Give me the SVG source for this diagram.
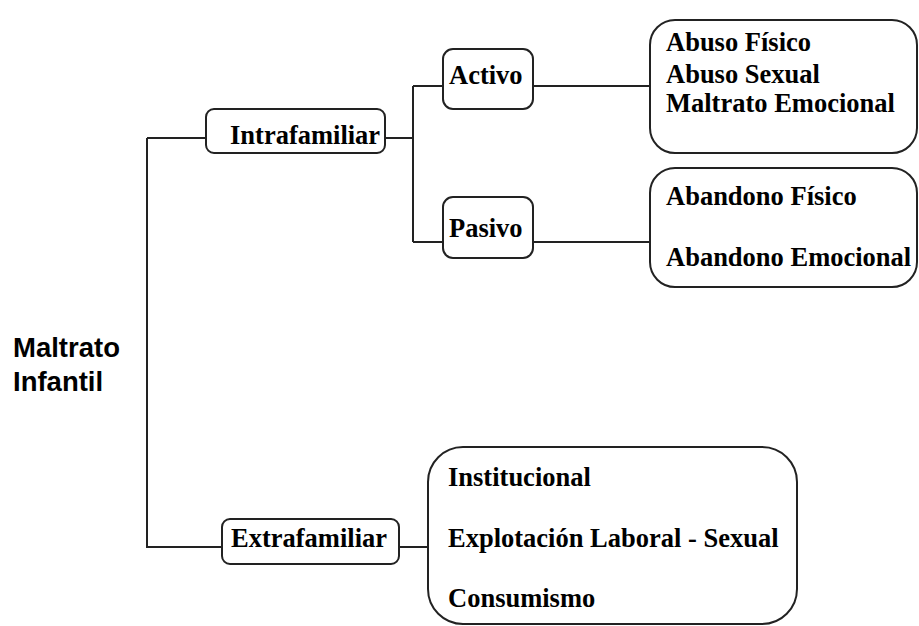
<svg xmlns="http://www.w3.org/2000/svg" width="919" height="626" viewBox="0 0 919 626">
<style>
.box{fill:#fff;stroke:#222;stroke-width:2}
.ln{fill:none;stroke:#222;stroke-width:2}
.t{font-family:"Liberation Serif","Times New Roman",serif;font-weight:bold;font-size:26.5px;fill:#000}
.s{font-family:"Liberation Sans",Arial,sans-serif;font-weight:bold;font-size:27.5px;fill:#000}
</style>
<rect width="919" height="626" fill="#fff"/>
<g id="connectors">
<path class="ln" d="M147,138 V547 H222"/>
<path class="ln" d="M147,138 H206"/>
<path class="ln" d="M385,138 H413"/>
<path class="ln" d="M413,86 V242"/>
<path class="ln" d="M413,86 H443"/>
<path class="ln" d="M413,242 H443"/>
<path class="ln" d="M533,86 H650"/>
<path class="ln" d="M533,242 H650"/>
<path class="ln" d="M399,547 H428"/>
</g>
<g id="root">
<text class="s" x="13" y="357">Maltrato</text>
<text class="s" x="13" y="391">Infantil</text>
</g>
<g id="intrafamiliar">
<rect class="box" x="206" y="109" width="179" height="44" rx="8"/>
<text class="t" x="230" y="144">Intrafamiliar</text>
</g>
<g id="activo">
<rect class="box" x="443" y="49" width="90" height="60" rx="10"/>
<text class="t" x="449" y="84">Activo</text>
</g>
<g id="pasivo">
<rect class="box" x="443" y="197" width="90" height="61" rx="10"/>
<text class="t" x="449" y="237">Pasivo</text>
</g>
<g id="activo-list">
<rect class="box" x="650" y="20" width="267" height="133" rx="25"/>
<text class="t" x="666" y="51">Abuso Físico</text>
<text class="t" x="666" y="83">Abuso Sexual</text>
<text class="t" x="666" y="112">Maltrato Emocional</text>
</g>
<g id="pasivo-list">
<rect class="box" x="650" y="168" width="267" height="119" rx="25"/>
<text class="t" x="666" y="205">Abandono Físico</text>
<text class="t" x="666" y="266">Abandono Emocional</text>
</g>
<g id="extrafamiliar">
<rect class="box" x="222" y="519" width="177" height="45" rx="8"/>
<text class="t" x="231" y="547">Extrafamiliar</text>
</g>
<g id="extra-list">
<rect class="box" x="428" y="447" width="369" height="177" rx="35"/>
<text class="t" x="448" y="486">Institucional</text>
<text class="t" x="448" y="547">Explotación Laboral - Sexual</text>
<text class="t" x="448" y="607">Consumismo</text>
</g>
</svg>
